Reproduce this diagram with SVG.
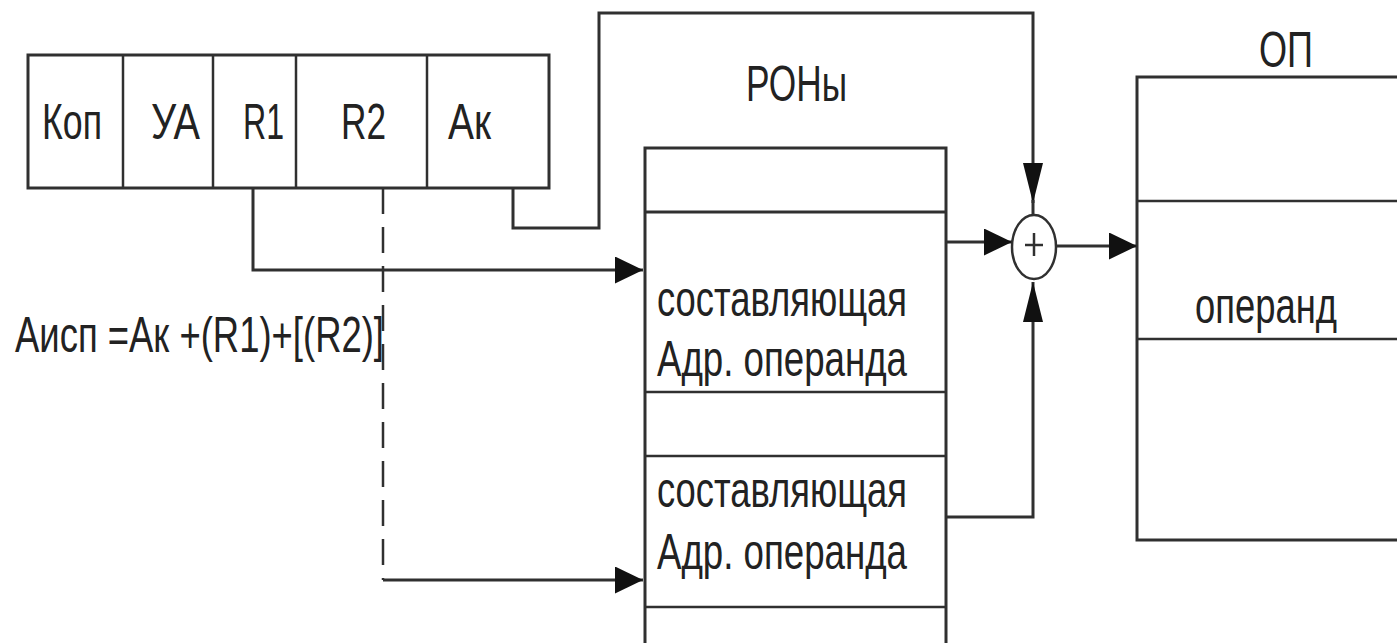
<svg xmlns="http://www.w3.org/2000/svg" width="1397" height="643" viewBox="0 0 1397 643">
<style>
.box{fill:#fff;stroke:#303030;stroke-width:3}
.ln{fill:none;stroke:#303030;stroke-width:3}
.thin{fill:none;stroke:#303030;stroke-width:2.5}
.dash{fill:none;stroke:#303030;stroke-width:2.5;stroke-dasharray:26 13}
text{font-family:"Liberation Sans",Arial,sans-serif;fill:#222;font-size:50px}
</style>
<defs>
<marker id="ah" markerWidth="28" markerHeight="27" refX="28" refY="13.5" orient="auto" markerUnits="userSpaceOnUse">
<path d="M0,0 L28,13.5 L0,27 Z" fill="#111"/>
</marker>
<marker id="av" markerWidth="40" markerHeight="20" refX="40" refY="10" orient="auto" markerUnits="userSpaceOnUse">
<path d="M0,0 L40,10 L0,20 Z" fill="#111"/>
</marker>
</defs>
<rect width="1397" height="643" fill="#fff"/>

<g id="instruction">
<rect class="box" x="28" y="55" width="521" height="133"/>
<line class="thin" x1="123" y1="55" x2="123" y2="188"/>
<line class="thin" x1="213" y1="55" x2="213" y2="188"/>
<line class="thin" x1="296" y1="55" x2="296" y2="188"/>
<line class="thin" x1="427" y1="55" x2="427" y2="188"/>
<text x="42" y="139" textLength="60" lengthAdjust="spacingAndGlyphs">Коп</text>
<text x="151" y="139" textLength="49" lengthAdjust="spacingAndGlyphs">УА</text>
<text x="243" y="139" textLength="41" lengthAdjust="spacingAndGlyphs">R1</text>
<text x="341" y="139" textLength="45" lengthAdjust="spacingAndGlyphs">R2</text>
<text x="448" y="139" textLength="43" lengthAdjust="spacingAndGlyphs">Ак</text>
</g>

<g id="formula">
<text x="15" y="352" textLength="369" lengthAdjust="spacingAndGlyphs">Аисп =Ак +(R1)+[(R2)]</text>
</g>

<g id="rons">
<text x="746" y="101" textLength="101" lengthAdjust="spacingAndGlyphs">РОНы</text>
<rect class="box" x="645" y="148" width="301" height="510"/>
<line class="ln" x1="645" y1="212" x2="946" y2="212"/>
<line class="thin" x1="645" y1="392" x2="946" y2="392"/>
<line class="thin" x1="645" y1="456" x2="946" y2="456"/>
<line class="thin" x1="645" y1="607" x2="946" y2="607"/>
<text x="657" y="316" textLength="250" lengthAdjust="spacingAndGlyphs">составляющая</text>
<text x="657" y="376" textLength="250" lengthAdjust="spacingAndGlyphs">Адр. операнда</text>
<text x="657" y="507" textLength="250" lengthAdjust="spacingAndGlyphs">составляющая</text>
<text x="657" y="569" textLength="250" lengthAdjust="spacingAndGlyphs">Адр. операнда</text>
</g>

<g id="adder">
<ellipse cx="1034" cy="247" rx="22" ry="32" fill="#fff" stroke="#303030" stroke-width="2.5"/>
<line class="thin" x1="1034" y1="233" x2="1034" y2="256"/>
<line class="thin" x1="1025" y1="245" x2="1043" y2="245"/>
</g>

<g id="op">
<text x="1259" y="67" textLength="54" lengthAdjust="spacingAndGlyphs">ОП</text>
<rect class="box" x="1137" y="77" width="280" height="463"/>
<line class="thin" x1="1137" y1="201" x2="1397" y2="201"/>
<line class="thin" x1="1137" y1="339" x2="1397" y2="339"/>
<text x="1195" y="323" textLength="142" lengthAdjust="spacingAndGlyphs">операнд</text>
</g>

<g id="connectors">
<polyline class="ln" points="253,188 253,270 643,270" marker-end="url(#ah)"/>
<polyline class="dash" points="383,188 383,580"/>
<polyline class="ln" points="383,580 643,580" marker-end="url(#ah)"/>
<polyline class="ln" points="513,188 513,228 599,228 599,13 1033,13 1033,203" marker-end="url(#av)"/>
<line class="ln" x1="1033" y1="200" x2="1033" y2="215"/>
<line class="ln" x1="946" y1="242" x2="1012" y2="242" marker-end="url(#ah)"/>
<polyline class="ln" points="946,517 1033,517 1033,282" marker-end="url(#av)"/>
<line class="ln" x1="1056" y1="246" x2="1137" y2="246" marker-end="url(#ah)"/>
</g>
</svg>
